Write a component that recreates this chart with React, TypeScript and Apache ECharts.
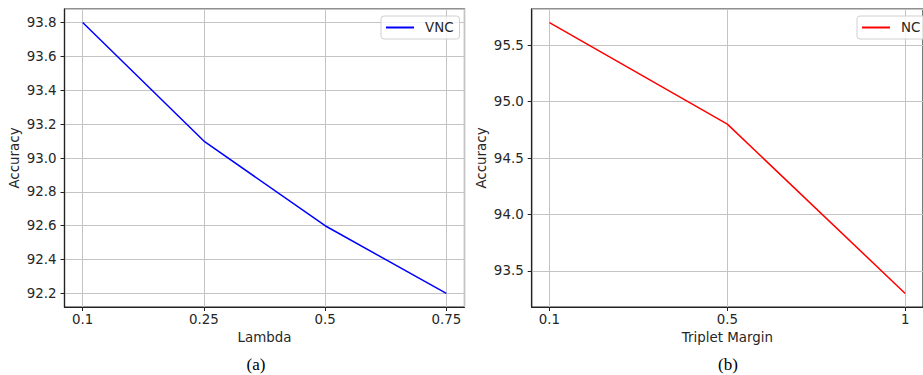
import React, { useEffect, useRef } from "react";
import * as echarts from "echarts";

const lambdaLabels = ["0.1", "0.25", "0.5", "0.75"];
const vncAccuracy = [93.8, 93.1, 92.6, 92.2];
const marginLabels = ["0.1", "0.5", "1"];
const ncAccuracy = [95.7, 94.8, 93.3];

const FONT = "DejaVu Sans";
const TXT = "#262626";
const FS = 13.4;

function axisX(gridIndex: number, labels: string[], name: string) {
  const n = labels.length - 1;
  const pad = n * 0.05;
  return {
    type: "value",
    gridIndex,
    min: -pad,
    max: n + pad,
    splitNumber: n,
    name,
    nameLocation: "middle",
    nameGap: 24,
    nameTextStyle: { fontFamily: FONT, fontSize: FS, color: TXT },
    axisLine: { show: true, onZero: false, lineStyle: { color: "#222", width: 1.2 } },
    axisTick: { show: true, inside: false, length: 4, lineStyle: { color: "#222" } },
    axisLabel: {
      margin: 6,
      fontFamily: FONT,
      fontSize: FS,
      color: TXT,
      showMinLabel: false,
      showMaxLabel: false,
      formatter: (v: number) => {
        const i = Math.round(v);
        return Math.abs(v - i) < 1e-6 && labels[i] !== undefined ? labels[i] : "";
      },
    },
    splitLine: { show: true, lineStyle: { color: "#c4c4c4", width: 1 } },
  };
}

function axisY(gridIndex: number, values: number[], splitNumber: number, decimals: number) {
  const lo = Math.min(...values);
  const hi = Math.max(...values);
  const pad = (hi - lo) * 0.05;
  return {
    type: "value",
    gridIndex,
    min: +(lo - pad).toFixed(4),
    max: +(hi + pad).toFixed(4),
    splitNumber,
    name: "Accuracy",
    nameLocation: "middle",
    nameGap: 44,
    nameTextStyle: { fontFamily: FONT, fontSize: FS, color: TXT },
    axisLine: { show: true, onZero: false, lineStyle: { color: "#222", width: 1.2 } },
    axisTick: { show: true, inside: false, length: 4, lineStyle: { color: "#222" } },
    axisLabel: {
      margin: 8,
      fontFamily: FONT,
      fontSize: FS,
      color: TXT,
      showMinLabel: false,
      showMaxLabel: false,
      formatter: (v: number) => v.toFixed(decimals),
    },
    splitLine: { show: true, lineStyle: { color: "#c4c4c4", width: 1 } },
  };
}

export default function App() {
  const ref = useRef<HTMLDivElement>(null);
  useEffect(() => {
    if (!ref.current) return;
    const chart = echarts.init(ref.current, undefined, { renderer: "svg" });
    const legendCommon = {
      backgroundColor: "rgba(255,255,255,0.8)",
      borderColor: "#d0d0d0",
      borderWidth: 1,
      borderRadius: 3,
      padding: [5, 6, 5, 5],
      itemWidth: 28,
      itemHeight: 2,
      icon: "rect",
      textStyle: { fontFamily: FONT, fontSize: FS, color: TXT, padding: [0, 0, 0, 6] },
    };
    const gridCommon = { top: 9, width: 400, height: 298, show: true, borderColor: "#222", borderWidth: 1.2, backgroundColor: "transparent" };
    chart.setOption({
      animation: false,
      backgroundColor: "#ffffff",
      grid: [
        { ...gridCommon, left: 64.5 },
        { ...gridCommon, left: 531.7 },
      ],
      xAxis: [axisX(0, lambdaLabels, "Lambda"), axisX(1, marginLabels, "Triplet Margin")],
      yAxis: [axisY(0, vncAccuracy, 8, 1), axisY(1, ncAccuracy, 5, 1)],
      legend: [
        { ...legendCommon, data: ["VNC"], left: 381, top: 16 },
        { ...legendCommon, data: ["NC"], left: 857, top: 16 },
      ],
      series: [
        {
          name: "VNC",
          type: "line",
          xAxisIndex: 0,
          yAxisIndex: 0,
          data: vncAccuracy.map((v, i) => [i, v]),
          showSymbol: false,
          symbol: "none",
          color: "#0000ff",
          lineStyle: { color: "#0000ff", width: 1.5 },
        },
        {
          name: "NC",
          type: "line",
          xAxisIndex: 1,
          yAxisIndex: 1,
          data: ncAccuracy.map((v, i) => [i, v]),
          showSymbol: false,
          symbol: "none",
          color: "#ff0000",
          lineStyle: { color: "#ff0000", width: 1.5 },
        },
      ],
      graphic: [
        {
          type: "text",
          x: 256,
          y: 356,
          style: { text: "(a)", font: "17px 'Liberation Serif'", fill: "#000", textAlign: "center", textVerticalAlign: "top" },
        },
        {
          type: "text",
          x: 728,
          y: 356,
          style: { text: "(b)", font: "17px 'Liberation Serif'", fill: "#000", textAlign: "center", textVerticalAlign: "top" },
        },
      ],
    });
    return () => chart.dispose();
  }, []);
  return (
    <div
      ref={ref}
      style={{ position: "fixed", left: 0, top: 0, width: 923, height: 375, background: "#fff" }}
    />
  );
}
